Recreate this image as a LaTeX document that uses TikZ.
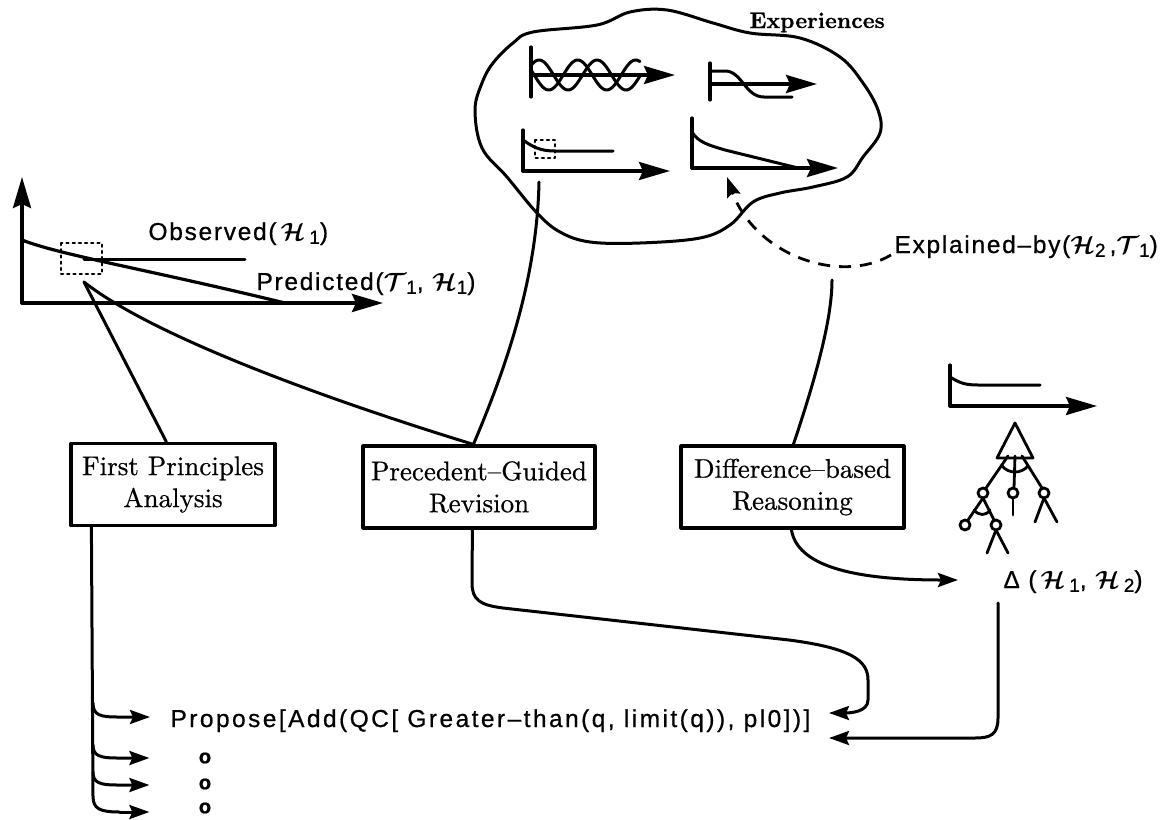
\documentclass[tikz,border=0pt]{standalone}
\usepackage{fontspec}
\newfontfamily\lblfont[LetterSpace=7,FakeBold=0.7]{Liberation Sans}
\newfontfamily\propfont[LetterSpace=10,FakeBold=0.7]{Liberation Sans}
\newfontfamily\boxfont[BoldFont=lmroman10-bold.otf,FakeBold=0.6]{lmroman10-regular.otf}
\usetikzlibrary{arrows.meta,calc}
\newcommand\myH{\ensuremath{\mathcal{H}}}
\newcommand\myT{\ensuremath{\mathcal{T}}}
\newcommand\mysub[1]{\raisebox{-0.3ex}{\fontsize{19}{19}\selectfont #1}}
\begin{document}
\begin{tikzpicture}[x=1pt,y=-1pt,line width=3pt,line join=round,line cap=round]
\tikzset{
  box/.style={draw,line width=3.2pt,minimum height=82pt,align=center,inner sep=0pt,
    font=\boxfont\fontsize{27}{32}\selectfont},
  lbl/.style={font=\lblfont\boldmath\fontsize{24.5}{28}\selectfont,inner sep=0pt},
  axis/.style={line width=3.4pt,-{Stealth[length=31pt,width=18pt,inset=4pt]}},
  conn/.style={line width=3pt},
  arr/.style={line width=3pt,-{Stealth[length=20pt,width=14pt,inset=3pt]}},
  dots/.style={line width=2.2pt,dash pattern=on 2.2pt off 4pt},
  thin/.style={line width=2.8pt},
  odot/.style={font=\lblfont\bfseries\fontsize{20}{20}\selectfont,inner sep=0pt}
}
\useasboundingbox (0,0) rectangle (1166,819);

% ---------- boxes ----------
\node[box,minimum width=204pt] (fp) at (173,484.5) {First Principles\\Analysis};
\node[box,minimum width=232pt] (pg) at (479,487) {Precedent–Guided\\Revision};
\node[box,minimum width=223pt] (db) at (792.5,487) {Difference–based\\Reasoning};

% ---------- left graph ----------
\draw[axis] (22,303) -- (22,177);
\draw[axis] (22,303) -- (383,303);
\draw[line width=3.2pt] (22,240) .. controls (60,255) and (150,270) .. (285,303);
\draw (84,259) -- (245,259);
\draw[dots] (61,243) rectangle (102,274);
\node[lbl,anchor=base west] (obs) at (147,240) {Observed(\,\myH\,\mysub{1})};
\node[lbl,anchor=base west] (pred) at (255,290) {Predicted(\myT\mysub{1}, \myH\mysub{1})};
\coordinate (gsel) at (84,282);

% ---------- cloud of experiences ----------
\draw plot[smooth cycle,tension=0.6] coordinates {
 (533,32) (597,25) (630,12) (667,10) (713,23) (750,33) (800,38) (840,57)
 (863,83) (878,110) (880,133) (863,157) (847,177) (813,187) (780,193)
 (753,202) (730,225) (700,238) (640,243) (590,242) (560,232) (537,213)
 (507,177) (482,148) (475,110) (482,83) (493,63) (513,43)};
\node[font=\boxfont\bfseries\fontsize{22.5}{26}\selectfont,anchor=base west,inner sep=0pt] (exp) at (748,28) {Experiences};

% graph 1 (waves)
\draw[line width=3.2pt] (531,47) -- (531,97);
\draw[axis] (531,75) -- (675,75);
\draw plot[domain=0:109,samples=80,smooth] ({531+\x},{75-15*sin(6.2069*\x+40)});
\draw plot[domain=0:109,samples=80,smooth] ({531+\x},{75-15*sin(6.2069*\x+160)});
% graph 2
\draw[line width=3.2pt] (710,63) -- (710,100);
\draw[axis] (710,84) -- (817,84);
\draw (710,71) -- (725,71) .. controls (742,71) and (745,97) .. (764,97) -- (792,97);
% graph 3
\draw[line width=3.2pt] (523,130) -- (523,171);
\draw[axis] (523,171) -- (670,171);
\draw (523,140) .. controls (533,147) and (540,151) .. (555,151) -- (613,151);
\draw[dots] (535,140) rectangle (555,158);
% graph 4
\draw[line width=3.2pt] (692,118) -- (692,168);
\draw[axis] (692,168) -- (838,168);
\draw (692,132) .. controls (698,142) and (708,145) .. (725,150) -- (798,168);

\coordinate (cl1) at (539,182);
\coordinate (cl2) at (832,280);

% ---------- explained-by ----------
\node[lbl,anchor=base west] (expl) at (893,253) {Explained–by(\myH\mysub{2}\,,\myT\mysub{1})};
\draw[line width=2.8pt,dash pattern=on 12pt off 9pt,line cap=butt,
  -{Stealth[length=20pt,width=14pt,inset=3pt]}]
  ($(expl.base west)+(-2,2)$) .. controls (840,285) and (755,255) .. (727,177);

% ---------- connectors to boxes ----------
\draw[conn] (gsel) -- ($(fp.north west)+(97,0)$);
\draw[conn] (gsel) .. controls (155,338) and (335,402) .. ($(pg.north west)+(112,0)$);
\draw[conn] ($(pg.north west)+(112,0)$) .. controls (505,370) and (537,280) .. (cl1);
\draw[conn] ($(db.north west)+(114,0)$) .. controls (815,380) and (832,320) .. (cl2);

% ---------- tree and its graph ----------
\draw[line width=3.2pt] (950,365) -- (950,406);
\draw[axis] (950,406) -- (1097,406);
\draw (950,377) .. controls (960,383) and (965,385) .. (978,385) -- (1040,385);
\begin{scope}[thin]
\draw (1015,423) -- (997,458) -- (1033,458) -- cycle;
\draw (1008,456) -- (986,488);
\draw (1015,456) -- (1014,488);
\draw (1022,456) -- (1042,488);
\draw (1002,466) .. controls (1009,474) and (1021,474) .. (1028,466);
\draw (983,493) circle (5);
\draw (1013,493) circle (5);
\draw (1044,493) circle (5);
\draw (1013,499) -- (1013,515);
\draw (1044,498) -- (1035,522);
\draw (1044,498) -- (1057,522);
\draw (983,498) -- (968,520);
\draw (983,498) -- (994,520);
\draw (974,510) .. controls (979,516) and (986,516) .. (990,510);
\draw (965,525) circle (5);
\draw (996,525) circle (5);
\draw (996,530) -- (987,553);
\draw (996,530) -- (1008,553);
\end{scope}
\node[lbl,anchor=base west] (delta) at (1002,588) {Δ (\,\myH\,\mysub{1}, \myH\,\mysub{2})};
\draw[arr] ($(db.south west)+(112,0)$) .. controls (797,565) and (850,580) .. ($(delta.base west)+(-44,-8)$);

% ---------- proposals ----------
\node[lbl,font=\propfont\boldmath\fontsize{24.5}{28}\selectfont,anchor=base west] (prop) at (169,727) {Propose[Add(QC[ Greater–than(q, limit(q)), pl0])]};
\node[odot] (o1) at (205,758) {o};
\node[odot] (o2) at (205,784) {o};
\node[odot] (o3) at (205,808) {o};

\coordinate (stem) at ($(fp.south west)+(22,0)$);
\draw[conn] (stem) -- (93,796) .. controls (93,809) and (100,812) .. (120,812);
\draw[arr] (120,812) -- ($(o3.west)+(-48,4)$);
\draw[arr] (93,703) .. controls (93,715) and (100,717) .. (118,717) -- ($(prop.base west)+(-19,-10)$);
\draw[arr] (93,745) .. controls (93,756) and (100,758) .. (118,758) -- ($(o1.west)+(-48,0)$);
\draw[arr] (93,772) .. controls (93,783) and (100,785) .. (118,785) -- ($(o2.west)+(-48,1)$);

\draw[arr] ($(pg.south west)+(111,0)$) -- (472,583) .. controls (472,600) and (480,605) .. (503,608)
  -- (789,640) .. controls (850,648) and (868,660) .. (868,680) -- (868,700)
  .. controls (868,712) and (850,713) .. (829,713);
\draw[arr] ($(delta.base west)+(-4,15)$) -- (998,718) .. controls (998,735) and (990,738) .. (975,738) -- (829,738);
\end{tikzpicture}
\end{document}
